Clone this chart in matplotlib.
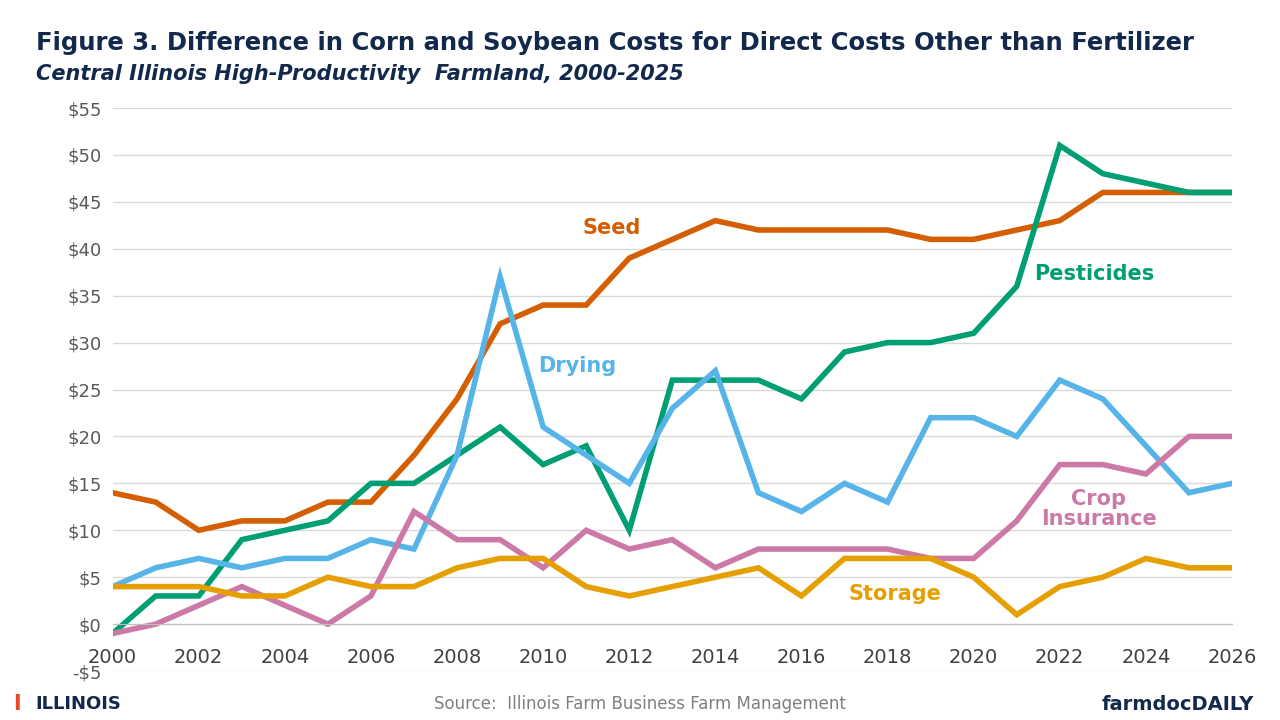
import matplotlib.pyplot as plt
import numpy as np

years = list(range(2000, 2027))
seed = [14, 13, 10, 11, 11, 13, 13, 18, 24, 32, 34, 34, 39, 41, 43, 42, 42, 42, 42, 41, 41, 42, 43, 46, 46, 46, 46]
pesticides = [-1, 3, 3, 9, 10, 11, 15, 15, 18, 21, 17, 19, 10, 26, 26, 26, 24, 29, 30, 30, 31, 36, 51, 48, 47, 46, 46]
drying = [4, 6, 7, 6, 7, 7, 9, 8, 18, 37, 21, 18, 15, 23, 27, 14, 12, 15, 13, 22, 22, 20, 26, 24, 19, 14, 15]
crop_ins = [-1, 0, 2, 4, 2, 0, 3, 12, 9, 9, 6, 10, 8, 9, 6, 8, 8, 8, 8, 7, 7, 11, 17, 17, 16, 20, 20]
storage = [4, 4, 4, 3, 3, 5, 4, 4, 6, 7, 7, 4, 3, 4, 5, 6, 3, 7, 7, 7, 5, 1, 4, 5, 7, 6, 6]

navy = "#13294B"
fig = plt.figure(figsize=(12.8, 7.2), dpi=100)
ax = fig.add_axes([0.088, 0.068, 0.8745, 0.782])

series = [
    (seed, "#D55E00", "Seed", 2011.6, 42.2, "center"),
    (pesticides, "#009E73", "Pesticides", 2021.4, 37.3, "left"),
    (drying, "#56B4E9", "Drying", 2010.8, 27.5, "center"),
    (crop_ins, "#CC79A7", "Crop\nInsurance", 2022.9, 12.3, "center"),
    (storage, "#E69F00", "Storage", 2017.1, 3.2, "left"),
]
for vals, col, name, lx, ly, ha in series:
    ax.plot(years, vals, color=col, lw=4, solid_joinstyle="miter")
for vals, col, name, lx, ly, ha in series:
    ax.text(lx, ly, name, color=col, fontsize=15, fontweight="bold", ha=ha, va="center",
            linespacing=1.0)

ax.set_xlim(2000, 2026)
ax.set_ylim(-5, 55)
ax.set_xticks(range(2000, 2027, 2))
ax.set_yticks(range(-5, 56, 5))
ax.set_yticklabels([f"-${-v}" if v < 0 else f"${v}" for v in range(-5, 56, 5)])
ax.tick_params(axis="x", labelsize=14, length=0, pad=17, labelcolor="#404040")
ax.tick_params(axis="y", labelsize=13, length=0, pad=8, labelcolor="#595959")
for lbl in ax.get_xticklabels():
    lbl.set_fontweight("bold")
ax.grid(axis="y", color="#d9d9d9", lw=1)
ax.set_axisbelow(True)
for s in ["top", "right", "left"]:
    ax.spines[s].set_visible(False)
ax.spines["bottom"].set_position(("data", 0))
ax.spines["bottom"].set_color("#bfbfbf")

fig.text(0.028, 0.94, "Figure 3. Difference in Corn and Soybean Costs for Direct Costs Other than Fertilizer",
         fontsize=17.5, fontweight="bold", color=navy, va="center")
fig.text(0.028, 0.897, "Central Illinois High-Productivity  Farmland, 2000-2025",
         fontsize=15, fontweight="bold", style="italic", color=navy, va="center")
fig.text(0.5, 0.022, "Source:  Illinois Farm Business Farm Management", fontsize=12,
         color="#7f7f7f", ha="center", va="center")
fig.text(0.01, 0.022, "I", fontsize=15, fontweight="bold", color="#E84A27", va="center")
fig.text(0.028, 0.022, "ILLINOIS", fontsize=13, fontweight="bold", color=navy, va="center")
fig.text(0.98, 0.022, "farmdocDAILY", fontsize=14, fontweight="bold", color=navy,
         ha="right", va="center")

fig.savefig("out.png", dpi=100)
